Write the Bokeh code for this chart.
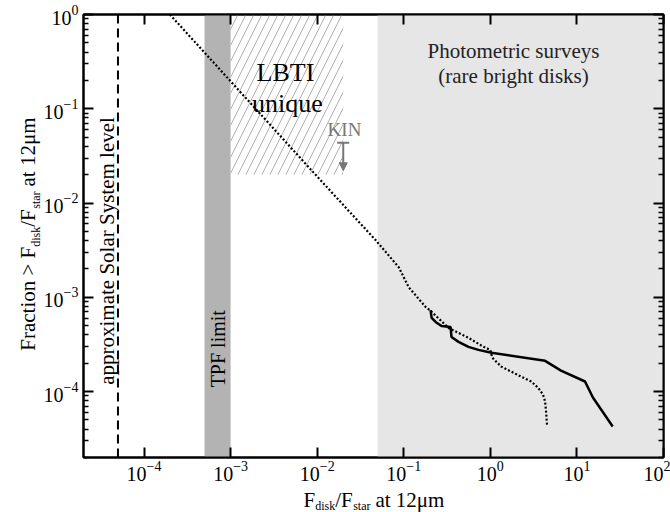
import math
from bokeh.plotting import figure
from bokeh.models import (LogAxis, FixedTicker, Label, Arrow, NormalHead,
                          CustomJSTickFormatter)
from bokeh.embed import file_html
from bokeh.resources import INLINE

# ---------------- data ----------------
x_range_lim = [2e-5, 100]
y_range_lim = [2e-5, 1]
x_ticks = [1e-4, 1e-3, 1e-2, 1e-1, 1e0, 1e1, 1e2]
y_ticks = [1e-4, 1e-3, 1e-2, 1e-1, 1e0]
y_minor = [m * 10.0 ** d for d in range(-5, 0) for m in range(2, 10)]

solar_level = 5e-5                 # approximate Solar System level
tpf_limit = [5e-4, 1e-3]           # TPF band
lbti_x = [1e-3, 2e-2]              # LBTI unique region
lbti_y = [2e-2, 1.0]
photometric_x = [0.05, 100]        # photometric surveys region

kin_x = 0.02
kin_y = 0.0435
kin_tip = 0.022

# dotted curve (model distribution)
dot_x = [1.99e-4, 1.05e-2, 4.76e-2, 8.77e-2, 0.114, 0.179, 0.204, 0.329, 0.559,
         0.832, 1.0, 1.05, 1.34, 1.74, 2.27, 2.96, 3.56, 4.06, 4.29, 4.40, 4.52]
dot_y = [1.0, 1.82e-2, 4.02e-3, 2.08e-3, 1.28e-3, 7.9e-4, 7.2e-4, 4.73e-4, 3.72e-4,
         2.99e-4, 2.77e-4, 2.29e-4, 1.84e-4, 1.63e-4, 1.44e-4, 1.28e-4, 1.10e-4,
         9.29e-5, 7.83e-5, 6.15e-5, 4.38e-5]

# solid curve (photometric surveys)
sol_x = [0.204, 0.210, 0.233, 0.273, 0.347, 0.356, 0.429, 0.559, 0.728, 1.03,
         4.29, 6.55, 12.4, 15.3, 25.9]
sol_y = [7.33e-4, 6.04e-4, 5.48e-4, 4.97e-4, 4.85e-4, 3.80e-4, 3.37e-4, 2.98e-4,
         2.77e-4, 2.58e-4, 2.12e-4, 1.67e-4, 1.28e-4, 8.65e-5, 4.27e-5]

SERIF = "Liberation Serif"
FRAME_L, FRAME_T, FRAME_R, FRAME_B = 83, 13, 663, 457
W, H = 670, 512

p = figure(width=W, height=H, x_axis_type="log", y_axis_type="log",
           x_range=tuple(x_range_lim), y_range=tuple(y_range_lim),
           output_backend="svg", toolbar_location=None,
           min_border_left=FRAME_L, min_border_right=W - FRAME_R,
           min_border_top=FRAME_T, min_border_bottom=H - FRAME_B)
p.xgrid.visible = False
p.ygrid.visible = False
p.outline_line_color = "black"
p.outline_line_width = 2
p.background_fill_color = "white"
p.border_fill_color = "white"

# regions
p.quad(left=[photometric_x[0]], right=[photometric_x[1]], bottom=[y_range_lim[0]],
       top=[y_range_lim[1]], fill_color="#e6e6e6", line_color=None)
p.quad(left=[tpf_limit[0]], right=[tpf_limit[1]], bottom=[y_range_lim[0]],
       top=[y_range_lim[1]], fill_color="#b3b3b3", line_color=None)
p.quad(left=[lbti_x[0]], right=[lbti_x[1]], bottom=[lbti_y[0]], top=[lbti_y[1]],
       fill_alpha=0, line_color=None, hatch_pattern="/", hatch_color="#b0b0b0",
       hatch_weight=1, hatch_scale=16)

# solar system level
p.segment(x0=[solar_level], y0=[y_range_lim[0]], x1=[solar_level], y1=[y_range_lim[1]],
          line_color="black", line_width=2, line_dash="9 5")

# curves
p.line(dot_x, dot_y, line_color="black", line_width=2.2, line_dash="2 2")
p.line(sol_x, sol_y, line_color="black", line_width=2.5)

# KIN upper limit
p.scatter(x=[kin_x], y=[kin_y], marker="dash", size=12, line_color="#777777", line_width=2)
p.add_layout(Arrow(end=NormalHead(size=8, fill_color="#777777", line_color="#777777"),
                   x_start=kin_x, y_start=kin_y, x_end=kin_x, y_end=kin_tip,
                   line_color="#777777", line_width=2))

blank = CustomJSTickFormatter(code="return ''")

# axes styling
def style_axis(ax, ticks, minor, labels=True):
    ax.ticker = FixedTicker(ticks=ticks, minor_ticks=minor)
    ax.axis_line_width = 2
    ax.axis_line_color = "black"
    ax.major_tick_in = 10
    ax.major_tick_out = 0
    ax.major_tick_line_width = 2
    ax.minor_tick_in = 5
    ax.minor_tick_out = 0
    ax.minor_tick_line_width = 1.5
    ax.major_label_text_font = SERIF
    ax.major_label_text_color = "black"
    ax.major_label_text_font_size = "20px"
    if not labels:
        ax.formatter = blank
        ax.major_label_standoff = 0
        ax.major_label_text_font_size = "1px"

style_axis(p.xaxis[0], x_ticks, [], True)
p.xaxis[0].major_label_standoff = 3
style_axis(p.yaxis[0], y_ticks, y_minor, True)
p.yaxis[0].major_label_standoff = 5

top_ax = LogAxis()
style_axis(top_ax, x_ticks, [], False)
p.add_layout(top_ax, "above")
right_ax = LogAxis()
style_axis(right_ax, y_ticks, y_minor, False)
p.add_layout(right_ax, "right")

DEC_X = (FRAME_R - FRAME_L) / (math.log10(x_range_lim[1]) - math.log10(x_range_lim[0]))
DEC_Y = (FRAME_B - FRAME_T) / (math.log10(y_range_lim[1]) - math.log10(y_range_lim[0]))


def px2data(px, py):
    lx = math.log10(x_range_lim[0]) + (px - FRAME_L) / DEC_X
    ly = math.log10(y_range_lim[1]) - (py - FRAME_T) / DEC_Y
    return 10 ** lx, 10 ** ly


def lab(text, px, py, size, color="black", angle=0.0, align="center",
        baseline="middle", xo=0, yo=0, place="center"):
    x, y = px2data(px, py)
    p.add_layout(Label(x=x, y=y, text=text, text_font=SERIF,
                       text_font_size=f"{size}px", text_color=color, angle=angle,
                       text_align=align, text_baseline=baseline,
                       x_offset=xo, y_offset=yo), place)

# region texts
lab("LBTI", 285, 71, 26)
lab("unique", 287, 102, 26)
lab("Photometric surveys", 513, 50, 21, color="#222222")
lab("(rare bright disks)", 513, 75, 21, color="#222222")
lab("KIN", 344, 128, 19, color="#777777")
lab("TPF limit", 217, 348, 20, angle=math.pi / 2)
lab("approximate Solar System level", 106, 250, 21, angle=math.pi / 2)

# axis titles with subscripts: one label for the main-size text (with gaps
# left for the subscripts) and one label for the subscripts.
MAIN, SUB = 21, 12
NB = "\u00a0"          # no-break space (0.25 em)
THIN = "\u2009"        # thin space (0.2 em)
HAIR = "\u200a"        # hair space
gap_disk = NB * 3 + THIN       # ~ width of "disk" at SUB size
gap_star = NB * 3 + HAIR       # ~ width of "star" at SUB size
gap_slash = NB * 6             # ~ width of "/F" at MAIN size
sub_text = "disk" + gap_slash + "star"

# x title: main text in the lower side panel, subscripts in the upper one
x_main = "F" + gap_disk + "/F" + gap_star + " at 12\u03bcm"
lab(x_main, 303, 500, MAIN, align="left", baseline="alphabetic", place="below")
lab(sub_text, 303, 506, SUB, align="left", baseline="alphabetic",
    xo=0.556 * MAIN, place="above")

# y title (rotated): both labels in the left side panel
y_main = "Fraction > F" + gap_disk + "/F" + gap_star + " at 12\u03bcm"
lab(y_main, 27.5, 350, MAIN, align="left", baseline="alphabetic",
    angle=math.pi / 2, place="left")
lab(sub_text, 35, 350, SUB, align="left", baseline="alphabetic",
    angle=math.pi / 2, yo=4.953 * MAIN, place="left")

open("out.html", "w").write(file_html(p, INLINE))
